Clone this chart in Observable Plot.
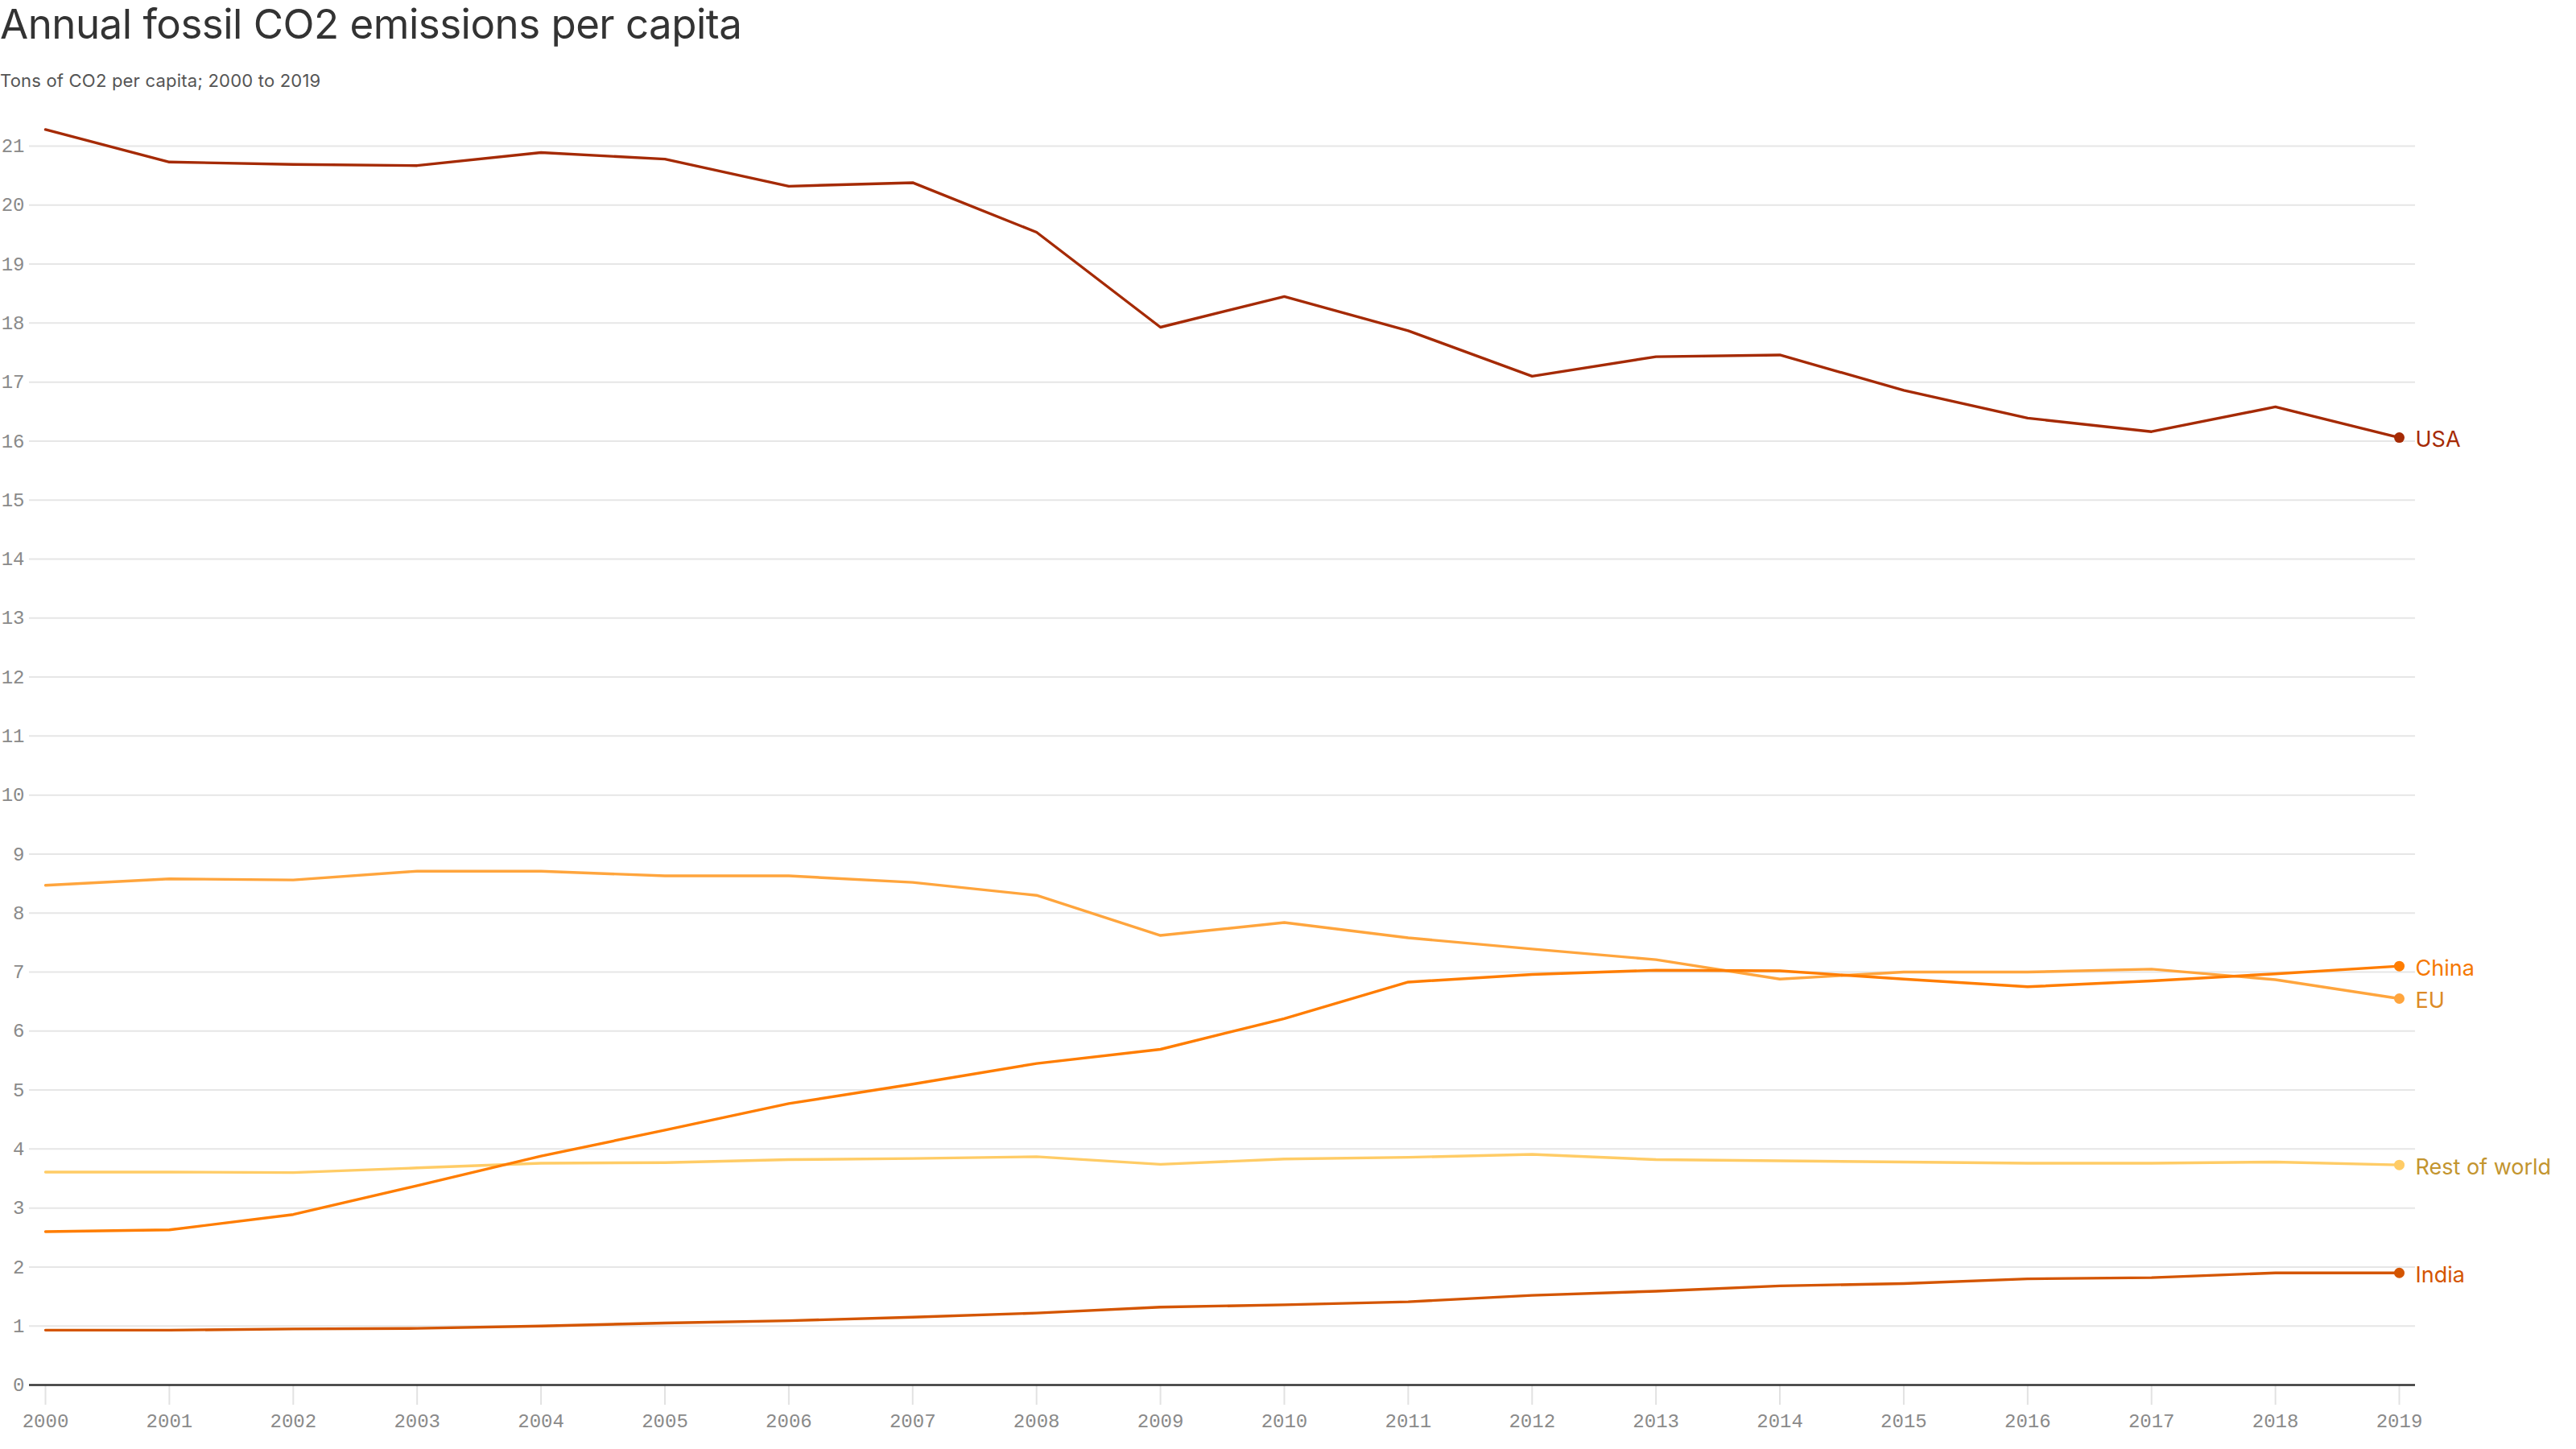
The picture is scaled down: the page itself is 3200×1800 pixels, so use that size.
<!DOCTYPE html>
<html>
<head>
<meta charset="utf-8">
<script src="https://cdn.jsdelivr.net/npm/d3@7"></script>
<script src="https://cdn.jsdelivr.net/npm/@observablehq/plot@0.6"></script>
<style>
  html, body { margin: 0; padding: 0; background: #fff; }
  #wrap { width: 3200px; }
  #header { position: relative; height: 120px; width: 3200px; }
  #title { position: absolute; left: 0; top: 0; margin: 0; font-family: Inter, "Noto Sans", sans-serif; font-weight: 400; font-size: 51px; line-height: 60px; color: #333; letter-spacing: -0.5px; }
  #subtitle { position: absolute; left: 0; top: 88px; margin: 0; font-family: Inter, "Noto Sans", sans-serif; font-size: 22px; line-height: 24px; color: #555; letter-spacing: 0.2px; }
</style>
</head>
<body>
<div id="wrap">
  <div id="header">
    <div id="title">Annual fossil CO2 emissions per capita</div>
    <div id="subtitle">Tons of CO2 per capita; 2000 to 2019</div>
  </div>
  <div id="chart"></div>
</div>
<script>
const years = [2000,2001,2002,2003,2004,2005,2006,2007,2008,2009,2010,2011,2012,2013,2014,2015,2016,2017,2018,2019];
const countries = ["Rest of world", "EU", "China", "India", "USA"];
const usa   = [21.28,20.73,20.69,20.67,20.89,20.78,20.32,20.38,19.54,17.93,18.45,17.87,17.10,17.43,17.46,16.86,16.39,16.16,16.58,16.06];
const china = [2.60,2.63,2.89,3.38,3.88,4.32,4.77,5.10,5.45,5.69,6.21,6.83,6.96,7.03,7.02,6.88,6.75,6.85,6.97,7.10];
const eu    = [8.47,8.58,8.56,8.71,8.71,8.63,8.63,8.52,8.30,7.62,7.84,7.58,7.39,7.21,6.88,7.00,7.00,7.05,6.87,6.55];
const row   = [3.61,3.61,3.60,3.68,3.76,3.77,3.82,3.84,3.87,3.74,3.83,3.86,3.91,3.82,3.80,3.78,3.76,3.76,3.78,3.73];
const india = [0.93,0.93,0.95,0.96,1.00,1.05,1.09,1.15,1.22,1.32,1.36,1.41,1.52,1.59,1.68,1.72,1.80,1.82,1.90,1.90];
const yTicks = [0,1,2,3,4,5,6,7,8,9,10,11,12,13,14,15,16,17,18,19,20,21];

const lineColor  = {"USA": "#a52a04", "China": "#ff7d00", "EU": "#ffa53d", "Rest of world": "#ffcc66", "India": "#d45500"};
const labelColor = {"USA": "#a52a04", "China": "#f57800", "EU": "#dc8a26", "Rest of world": "#c3952f", "India": "#d45500"};

const seriesValues = {"USA": usa, "China": china, "EU": eu, "Rest of world": row, "India": india};
const data = countries.flatMap(c => years.map((y, i) => ({country: c, year: y, value: seriesValues[c][i]})));

const mono = "'Liberation Mono', 'DejaVu Sans Mono', monospace";
const sans = "Inter, 'Noto Sans', sans-serif";

const chart = Plot.plot({
  width: 3200,
  height: 1680,
  marginTop: 61,
  marginBottom: 80,
  marginLeft: 36,
  marginRight: 200,
  style: {fontFamily: sans, background: "#fff"},
  x: {domain: [2000, 2019], inset: 20},
  y: {domain: [0, 21]},
  color: {type: "identity"},
  marks: [
    Plot.ruleY(yTicks.filter(d => d > 0), {stroke: "#e6e6e6", strokeWidth: 2}),
    Plot.axisY({ticks: yTicks, tickSize: 0, tickPadding: 6, fontSize: 24, fontFamily: mono, fill: "#8a8a8a", label: null}),
    Plot.axisX({ticks: years, tickFormat: d => String(d), tickSize: 25, tickPadding: 10, stroke: "#e2e2e2", strokeWidth: 2, fill: "#8a8a8a", fontSize: 24, fontFamily: mono, label: null}),
    Plot.ruleY([0], {stroke: "#333", strokeWidth: 2.5}),
    Plot.line(data, {x: "year", y: "value", z: "country", stroke: d => lineColor[d.country], strokeWidth: 3.4}),
    Plot.dot(data, Plot.selectLast({x: "year", y: "value", z: "country", fill: d => lineColor[d.country], r: 6.5})),
    Plot.text(data, Plot.selectLast({x: "year", y: "value", z: "country", text: "country", fill: d => labelColor[d.country], textAnchor: "start", dx: 20, dy: 3, fontSize: 27, fontFamily: sans}))
  ]
});
document.getElementById("chart").appendChild(chart);
</script>
</body>
</html>
